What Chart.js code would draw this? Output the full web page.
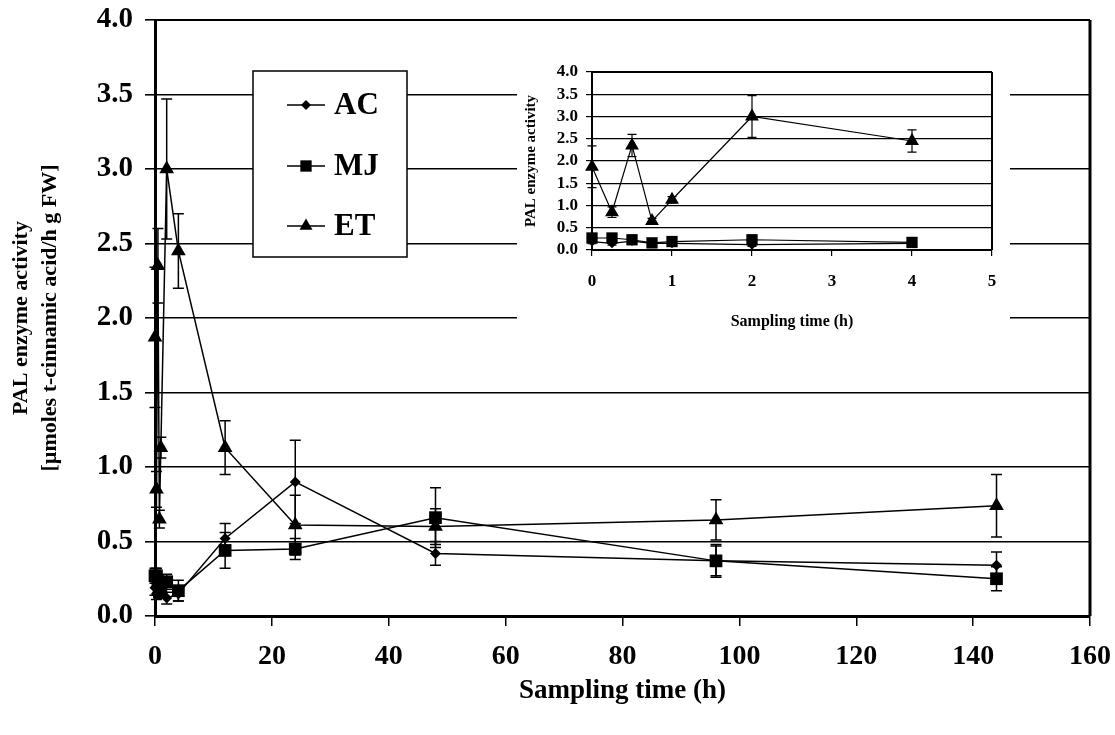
<!DOCTYPE html>
<html>
<head>
<meta charset="utf-8">
<script src="https://cdn.jsdelivr.net/npm/chart.js@4.4.0/dist/chart.umd.min.js"></script>
<style>
  html, body { margin: 0; padding: 0; background: #fff; }
  #wrap { position: relative; width: 1115px; height: 735px; overflow: hidden; }
  #main { position: absolute; left: 0; top: 0; }
  #insetBox { position: absolute; left: 517px; top: 40px; width: 493px; height: 300px; background: #fff; }
</style>
</head>
<body>
<div id="wrap">
  <canvas id="main" width="1115" height="735"></canvas>
  <div id="insetBox"><canvas id="inset" width="493" height="300"></canvas></div>
</div>
<script>
// ---- data ----
const timesH   = [0, 0.25, 0.5, 0.75, 1, 2, 4, 12, 24, 48, 96, 144];
const acValues = [0.19, 0.15, 0.20, 0.15, 0.15, 0.12, 0.15, 0.52, 0.90, 0.42, 0.37, 0.34];
const acErrors = [0.05, 0.04, 0.04, 0.03, 0.03, 0.04, 0.05, 0.10, 0.28, 0.08, 0.10, 0.09];
const mjValues = [0.27, 0.27, 0.23, 0.16, 0.19, 0.23, 0.17, 0.44, 0.45, 0.66, 0.37, 0.25];
const mjErrors = [0.05, 0.05, 0.04, 0.03, 0.04, 0.05, 0.07, 0.12, 0.07, 0.20, 0.11, 0.08];
const etValues = [1.87, 0.85, 2.35, 0.65, 1.13, 3.00, 2.45, 1.13, 0.61, 0.60, 0.645, 0.74];
const etErrors = [0.47, 0.12, 0.25, 0.06, 0.07, 0.47, 0.25, 0.18, 0.20, 0.12, 0.135, 0.21];

const seriesNames  = ['AC', 'MJ', 'ET'];
const mainXTicks   = [0, 20, 40, 60, 80, 100, 120, 140, 160];
const insetXTicks  = [0, 1, 2, 3, 4, 5];
const yTickValues  = [0, 0.5, 1, 1.5, 2, 2.5, 3, 3.5, 4];
const insetPoints  = 7; // the inset shows the first 4 h

const FONT = "'Liberation Serif', 'Times New Roman', serif";

function toPoints(vals, n) {
  return timesH.slice(0, n).map((t, i) => ({ x: t, y: vals[i] }));
}

function makeSets(n, sizes) {
  const styles = ['rectRot', 'rect', 'triangle'];
  const vals = [acValues, mjValues, etValues];
  const errs = [acErrors, mjErrors, etErrors];
  return seriesNames.map((name, i) => ({
    label: name,
    data: toPoints(vals[i], n),
    errorBars: errs[i].slice(0, n),
    borderColor: '#000',
    backgroundColor: '#000',
    borderWidth: sizes.line,
    pointStyle: styles[i],
    pointRadius: sizes.radius[i],
    pointBorderWidth: 0,
    tension: 0,
    clip: false
  }));
}

// keep the plot box where it is in the figure (no auto padding for labels)
function fixX(h) {
  return s => { s.height = h; s.paddingLeft = 0; s.paddingRight = 0; };
}
function fixY(w) {
  return s => { s.width = w; s.paddingTop = 0; s.paddingBottom = 0; };
}

// error bars drawn with the chart's own scales
const errorBarPlugin = {
  id: 'errorBars',
  afterDatasetsDraw(chart, args, opts) {
    const { ctx } = chart;
    const xs = chart.scales.x, ys = chart.scales.y;
    ctx.save();
    ctx.strokeStyle = '#000';
    ctx.lineWidth = opts.lineWidth;
    chart.data.datasets.forEach(ds => {
      ds.data.forEach((pt, i) => {
        const e = ds.errorBars[i];
        if (!e) return;
        const px = xs.getPixelForValue(pt.x);
        const top = ys.getPixelForValue(pt.y + e);
        const bot = ys.getPixelForValue(pt.y - e);
        ctx.beginPath();
        ctx.moveTo(px, top); ctx.lineTo(px, bot);
        ctx.moveTo(px - opts.cap, top); ctx.lineTo(px + opts.cap, top);
        ctx.moveTo(px - opts.cap, bot); ctx.lineTo(px + opts.cap, bot);
        ctx.stroke();
      });
    });
    ctx.restore();
  }
};

// right + top edge of the plot box
const framePlugin = {
  id: 'frame',
  afterDraw(chart, args, opts) {
    const { ctx, chartArea: a } = chart;
    ctx.save();
    ctx.strokeStyle = '#000';
    ctx.lineWidth = opts.right;
    ctx.beginPath();
    ctx.moveTo(a.right, a.top); ctx.lineTo(a.right, a.bottom);
    ctx.stroke();
    ctx.lineWidth = opts.top;
    ctx.beginPath();
    ctx.moveTo(a.left, a.top); ctx.lineTo(a.right, a.top);
    ctx.stroke();
    ctx.restore();
  }
};

// boxed legend inside the plot
const boxLegendPlugin = {
  id: 'boxLegend',
  afterDraw(chart, args, opts) {
    if (!opts.show) return;
    const { ctx } = chart;
    ctx.save();
    ctx.fillStyle = '#fff';
    ctx.fillRect(opts.left, opts.top, opts.width, opts.height);
    ctx.strokeStyle = '#000';
    ctx.lineWidth = 1.5;
    ctx.strokeRect(opts.left, opts.top, opts.width, opts.height);
    chart.data.datasets.forEach((ds, i) => {
      const y = opts.rows[i];
      ctx.strokeStyle = '#000';
      ctx.lineWidth = 1.5;
      ctx.beginPath();
      ctx.moveTo(opts.lineX0, y); ctx.lineTo(opts.lineX1, y);
      ctx.stroke();
      ctx.fillStyle = '#000';
      Chart.helpers.drawPoint(ctx, { pointStyle: ds.pointStyle, radius: opts.radius[i], rotation: 0, borderWidth: 0 },
        (opts.lineX0 + opts.lineX1) / 2, y);
      ctx.fillStyle = '#000';
      ctx.font = 'bold ' + opts.fontSize + 'px ' + FONT;
      ctx.textAlign = 'left';
      ctx.textBaseline = 'middle';
      ctx.fillText(ds.label, opts.textX, y + 1);
    });
    ctx.restore();
  }
};

// ---- main chart ----
new Chart(document.getElementById('main'), {
  type: 'line',
  data: { datasets: makeSets(timesH.length, { line: 1.5, radius: [5.5, 9, 8.5] }) },
  options: {
    responsive: false,
    animation: false,
    layout: { padding: { left: 0, top: 20, right: 25, bottom: 0 } },
    plugins: {
      legend: { display: false },
      tooltip: { enabled: false },
      errorBars: { cap: 5.5, lineWidth: 1.5 },
      frame: { right: 3, top: 2 },
      boxLegend: {
        show: true, left: 253, top: 71, width: 154, height: 186,
        rows: [105, 166, 226], lineX0: 287, lineX1: 325, textX: 334,
        radius: [5, 8, 7.5], fontSize: 31
      }
    },
    scales: {
      x: {
        type: 'linear', min: 0, max: 160,
        afterBuildTicks: s => { s.ticks = mainXTicks.map(v => ({ value: v })); },
        afterFit: fixX(119),
        ticks: { color: '#000', padding: 14, autoSkip: false, font: { family: FONT, size: 28, weight: 'bold' }, maxRotation: 0 },
        grid: { drawOnChartArea: false, drawTicks: true, tickLength: 10, color: '#000', lineWidth: 1.5 },
        border: { color: '#000', width: 3 },
        title: { display: true, text: 'Sampling time (h)', color: '#000',
                 font: { family: FONT, size: 27, weight: 'bold' }, padding: { top: 0, bottom: 28 } }
      },
      y: {
        min: 0, max: 4,
        afterBuildTicks: s => { s.ticks = yTickValues.map(v => ({ value: v })); },
        afterFit: fixY(155),
        ticks: { color: '#000', padding: 12, autoSkip: false, callback: v => v.toFixed(1), font: { family: FONT, size: 29, weight: 'bold' } },
        grid: { drawTicks: true, tickLength: 10, color: '#000', lineWidth: 1.6 },
        border: { color: '#000', width: 3 },
        title: { display: true, text: ['PAL enzyme activity', '[\u00b5moles t-cinnamic acid/h g FW]'], color: '#000',
                 font: { family: FONT, size: 22, weight: 'bold', lineHeight: 1.3 }, padding: { top: 7, bottom: 0 } }
      }
    }
  },
  plugins: [errorBarPlugin, framePlugin, boxLegendPlugin]
});

// ---- inset chart (first 4 h) ----
new Chart(document.getElementById('inset'), {
  type: 'line',
  data: { datasets: makeSets(insetPoints, { line: 1.2, radius: [5, 8, 8] }) },
  options: {
    responsive: false,
    animation: false,
    layout: { padding: { left: 0, top: 32, right: 18, bottom: 0 } },
    plugins: {
      legend: { display: false },
      tooltip: { enabled: false },
      errorBars: { cap: 4.5, lineWidth: 1.2 },
      frame: { right: 2, top: 2 },
      boxLegend: { show: false }
    },
    scales: {
      x: {
        type: 'linear', min: 0, max: 5,
        afterBuildTicks: s => { s.ticks = insetXTicks.map(v => ({ value: v })); },
        afterFit: fixX(90),
        ticks: { color: '#000', padding: 15, autoSkip: false, font: { family: FONT, size: 17, weight: 'bold' }, maxRotation: 0 },
        grid: { drawOnChartArea: false, drawTicks: true, tickLength: 6, color: '#000', lineWidth: 1.2 },
        border: { color: '#000', width: 2 },
        title: { display: true, text: 'Sampling time (h)', color: '#000',
                 font: { family: FONT, size: 16, weight: 'bold' }, padding: { top: 0, bottom: 9 } }
      },
      y: {
        min: 0, max: 4,
        afterBuildTicks: s => { s.ticks = yTickValues.map(v => ({ value: v })); },
        afterFit: fixY(75),
        ticks: { color: '#000', padding: 8, autoSkip: false, callback: v => v.toFixed(1), font: { family: FONT, size: 17, weight: 'bold' } },
        grid: { drawTicks: true, tickLength: 6, color: '#000', lineWidth: 1.2 },
        border: { color: '#000', width: 2 },
        title: { display: true, text: 'PAL enzyme activity', color: '#000',
                 font: { family: FONT, size: 15, weight: 'bold' }, padding: { top: 5, bottom: 0 } }
      }
    }
  },
  plugins: [errorBarPlugin, framePlugin]
});
</script>
</body>
</html>
